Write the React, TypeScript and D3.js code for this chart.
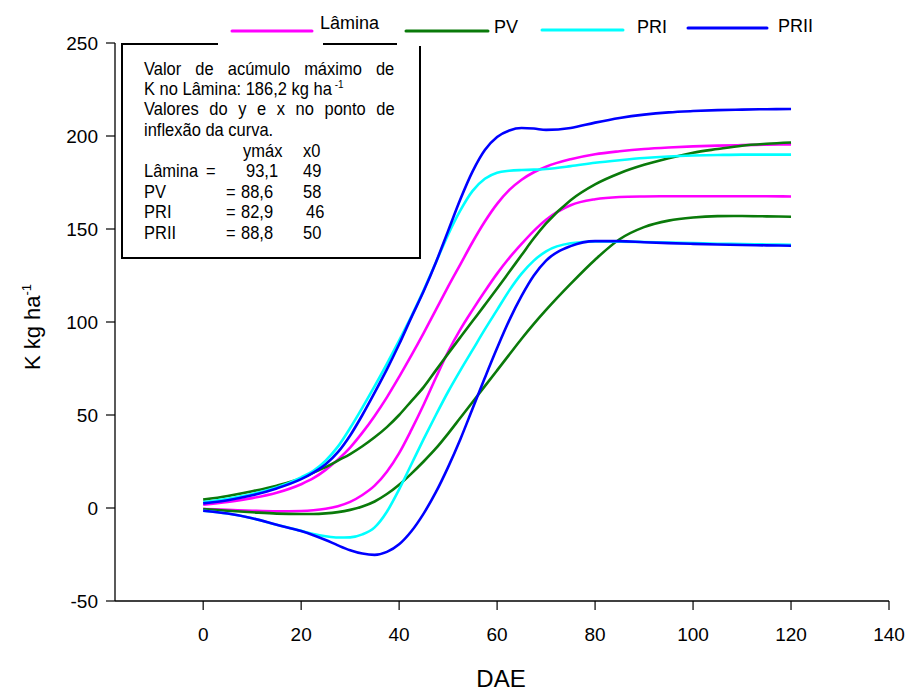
import React from "react";
import * as d3 from "d3";

const W = 909;
const H = 691;

const xs = [0, 5, 10, 15, 20, 22.5, 25, 27.5, 30, 32.5, 35, 37.5, 40, 42.5, 45, 47.5, 50, 52.5, 55, 57.5, 60, 62.5, 65, 67.5, 70, 75, 80, 85, 90, 95, 100, 105, 110, 115, 120];

const laminaUpper = [1.8, 3.3, 5.3, 8.2, 12.8, 16, 20.5, 26, 32.5, 40.5, 49.5, 59.5, 70.5, 82, 94, 106.5, 119, 131, 143, 154, 163.5, 171, 176.5, 180.5, 183.5, 187.5, 190.2, 191.8, 193, 193.8, 194.4, 194.8, 195.1, 195.3, 195.5];
const laminaLower = [-0.5, -1, -1.5, -1.8, -1.6, -1.2, -0.4, 1, 3.3, 7, 12, 19.5, 29.5, 42, 55.5, 70, 84, 96, 106.5, 116.5, 126, 134.5, 142, 149, 155, 162.8, 166, 167.2, 167.5, 167.6, 167.6, 167.6, 167.6, 167.6, 167.5];
const pvUpper = [4.5, 6.5, 9, 12, 16, 19, 22, 25.5, 29, 33.2, 38, 43.5, 50, 57.5, 65, 74, 83, 91.8, 100.5, 109.2, 118, 127, 136, 145, 153, 165.5, 174, 180, 184.5, 188, 191, 193, 194.8, 195.8, 196.5];
const pvLower = [-0.5, -1.5, -2.3, -3, -3.2, -3.2, -2.9, -2.2, -1, 0.8, 3.5, 7.5, 12.5, 18.5, 25, 32, 40, 48.5, 57, 65.5, 74, 82.5, 91, 99, 106.5, 120.5, 133.5, 144.5, 151, 154.5, 156.2, 156.9, 157, 156.8, 156.6];
const priUpper = [3.2, 5, 7.5, 11, 16.5, 20, 25.5, 33, 43, 54, 65.5, 77.5, 90, 103, 117, 132, 147, 160, 170.5, 177, 180.3, 181.3, 181.7, 181.9, 182.3, 183.8, 185.6, 187, 188.2, 189, 189.5, 189.8, 190, 190, 190];
const priLower = [-1.5, -3, -5.5, -9, -12.3, -14, -15.2, -15.9, -15.8, -14.2, -10.4, -2, 10, 23.5, 37, 50, 62.5, 74, 85, 96, 106.5, 117, 126, 133, 138, 142.3, 143.3, 143.2, 143, 142.7, 142.4, 142.1, 141.9, 141.7, 141.5];
const priiUpper = [2.5, 4.2, 6.8, 10.5, 15.5, 19, 23.5, 30, 39, 50, 62, 74.5, 88, 102.5, 116.5, 132, 149, 166, 181, 192.5, 199.5, 203, 204.3, 204, 203.3, 204.3, 207.2, 209.7, 211.5, 212.7, 213.4, 213.9, 214.2, 214.4, 214.5];
const priiLower = [-1.5, -3, -5.5, -9, -12.4, -14.6, -17.2, -20.1, -22.7, -24.5, -25.2, -23.6, -19.5, -12.5, -3, 8.5, 22, 37, 53.5, 70, 86, 101, 114, 125, 133, 140.8, 143.5, 143.5, 142.9, 142.4, 142, 141.7, 141.4, 141.2, 141];

const seriesNames = ["Lâmina", "PV", "PRI", "PRII"];
const seriesColors = ["#FF00FF", "#0A7A0A", "#00FFFF", "#0000FF"];
const seriesData = [
  [laminaUpper, laminaLower],
  [pvUpper, pvLower],
  [priUpper, priLower],
  [priiUpper, priiLower],
];

const xTicks = [0, 20, 40, 60, 80, 100, 120, 140];
const yTicks = [-50, 0, 50, 100, 150, 200, 250];

const boxRows = [
  { name: "Lâmina", ymax: "93,1", x0: "49" },
  { name: "PV", ymax: "88,6", x0: "58" },
  { name: "PRI", ymax: "82,9", x0: "46" },
  { name: "PRII", ymax: "88,8", x0: "50" },
];

const FONT = "Arial, 'Liberation Sans', Helvetica, sans-serif";

function T({ x, y, children, ws }: { x: number; y: number; children: any; ws?: number }) {
  return (
    <text
      transform={`translate(${x},${y}) scale(1,1.12)`}
      fontSize={16.5}
      style={ws ? { wordSpacing: ws + "px" } : undefined}
    >
      {children}
    </text>
  );
}

export default function App() {
  const x = d3.scaleLinear().domain([-18, 140]).range([115, 889]);
  const y = d3.scaleLinear().domain([-50, 250]).range([601, 43]);
  const line = d3
    .line<number>()
    .x((_, i) => x(xs[i]))
    .y((v) => y(v))
    .curve(d3.curveMonotoneX);

  const legendItems = [
    { x1: 232, x2: 312, ly: 31, tx: 320, ty: 29 },
    { x1: 406, x2: 488, ly: 31, tx: 494, ty: 33 },
    { x1: 542, x2: 623, ly: 30, tx: 637, ty: 33 },
    { x1: 688, x2: 767, ly: 28, tx: 778, ty: 32 },
  ];

  const rowY = (i: number) => 177 + i * 20.7;

  return (
    <svg
      width={W}
      height={H}
      style={{ position: "absolute", left: 0, top: 0, background: "#fff" }}
      fontFamily={FONT}
    >
      <rect x={0} y={0} width={W} height={H} fill="#fff" />
      {/* axes */}
      <line x1={115} x2={115} y1={y(250)} y2={y(-50)} stroke="#000" strokeWidth={1.3} />
      <line x1={x(-18)} x2={x(140)} y1={601} y2={601} stroke="#000" strokeWidth={1.3} />
      {yTicks.map((t) => (
        <g key={"y" + t}>
          <line x1={106} x2={115} y1={y(t)} y2={y(t)} stroke="#000" strokeWidth={1.2} />
          <text x={98} y={y(t)} dy="0.36em" textAnchor="end" fontSize={19}>
            {t}
          </text>
        </g>
      ))}
      {xTicks.map((t) => (
        <g key={"x" + t}>
          <line x1={x(t)} x2={x(t)} y1={601} y2={610} stroke="#000" strokeWidth={1.2} />
          <text x={x(t)} y={641} textAnchor="middle" fontSize={19}>
            {t}
          </text>
        </g>
      ))}
      <text x={501} y={687} textAnchor="middle" fontSize={24}>
        DAE
      </text>
      <text transform="translate(40,327) rotate(-90)" textAnchor="middle" fontSize={22}>
        K kg ha
        <tspan dy={-9} fontSize={13}>
          -1
        </tspan>
      </text>

      {/* curves */}
      {seriesData.map((pair, si) =>
        pair.map((vals, k) => (
          <path
            key={si + "-" + k}
            d={line(vals) || ""}
            fill="none"
            stroke={seriesColors[si]}
            strokeWidth={2.6}
          />
        ))
      )}

      {/* text box */}
      <rect x={122} y={44} width={298} height={214} fill="#fff" stroke="#000" strokeWidth={2} />
      <g fill="#000">
        <T x={144} y={75} ws={9.5}>
          Valor de acúmulo máximo de
        </T>
        <T x={144} y={95}>
          K no Lâmina: 186,2 kg ha
          <tspan dy={-6} fontSize={10}>
            {" -1"}
          </tspan>
        </T>
        <T x={144} y={115} ws={6}>
          Valores do y e x no ponto de
        </T>
        <T x={144} y={136}>
          inflexão da curva.
        </T>
        <T x={243} y={157}>
          ymáx
        </T>
        <T x={303} y={157}>
          x0
        </T>
        {boxRows.map((r, i) => (
          <g key={r.name}>
            <T x={144} y={rowY(i)}>
              {r.name}
            </T>
            <T x={i === 0 ? 206 : 226} y={rowY(i)}>
              =
            </T>
            <T x={i === 0 ? 246 : 241} y={rowY(i)}>
              {r.ymax}
            </T>
            <T x={i === 2 ? 306 : 303} y={rowY(i)}>
              {r.x0}
            </T>
          </g>
        ))}
      </g>

      {/* legend */}
      <rect x={218} y={16} width={105} height={30} fill="#fff" />
      <rect x={397} y={16} width={95} height={30} fill="#fff" />
      {seriesNames.map((n, i) => {
        const it = legendItems[i];
        return (
          <g key={n}>
            <line x1={it.x1} x2={it.x2} y1={it.ly} y2={it.ly} stroke={seriesColors[i]} strokeWidth={3} strokeLinecap="round" />
            <text x={it.tx} y={it.ty} fontSize={18}>
              {n}
            </text>
          </g>
        );
      })}
    </svg>
  );
}
